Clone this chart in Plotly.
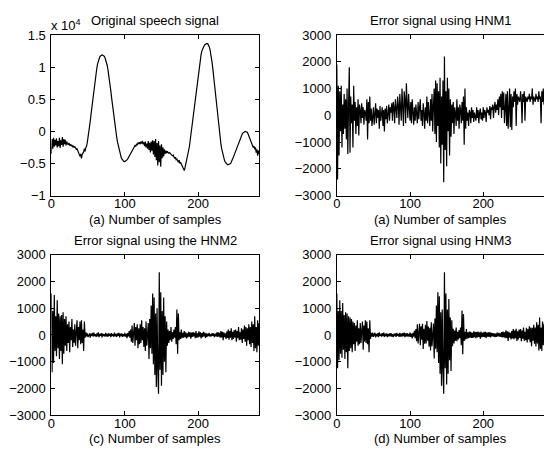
import plotly.graph_objects as go

# ---------------- data ----------------
speech = [
    -3500, -1200, -2700, -1000, -2400, -1300, -2200, -1100, -2500, -1500,
    -2300, -1000, -2600, -1400, -2100, -900, -2400, -1200, -2000, -1300,
    -2200, -1600, -1900, -2100, -1800, -2200, -2000, -2300, -2100, -2400,
    -2300, -2500, -2400, -2600, -2800, -2700, -3000, -3300, -3600, -3900,
    -3500, -4200, -3600, -3400, -3200, -2700, -3100, -2500, -2300, -1700,
    -1000, -200, 700, 1600, 2600, 3600, 4600, 5600, 6600, 7500,
    8400, 9200, 9900, 10500, 11000, 11300, 11600, 11750, 11850, 11900,
    11850, 11800, 11700, 11500, 11200, 10800, 10300, 9700, 9000, 8200,
    7300, 6300, 5300, 4300, 3300, 2300, 1400, 600, -200, -900,
    -1600, -2200, -2800, -3300, -3700, -4000, -4300, -4500, -4600, -4700,
    -4700, -4650, -4600, -4450, -4300, -4100, -3800, -3600, -3300, -3100,
    -2900, -2700, -2500, -2400, -2200, -2300, -2000, -2100, -1800, -1900,
    -1700, -2000, -1600, -1900, -1500, -2000, -1700, -2300, -1600, -2500,
    -1900, -2700, -1500, -2900, -1800, -3300, -1600, -3000, -1400, -3600,
    -1500, -4000, -1200, -4500, -1800, -5300, -1500, -4800, -2200, -5500,
    -2000, -4200, -2500, -3900, -2800, -3500, -3000, -3400, -3100, -3300,
    -3400, -3300, -3500, -3600, -3700, -3800, -3700, -4000, -4200, -4000,
    -4400, -4300, -4600, -4800, -4500, -5000, -4800, -5200, -5400, -5600,
    -5800, -6100, -5700, -5200, -4700, -4300, -3900, -3200, -2400, -1500,
    -600, 400, 1400, 2400, 3400, 4400, 5400, 6400, 7400, 8300,
    9200, 10000, 10700, 11400, 12000, 12500, 12900, 13200, 13300, 13500,
    13600, 13700, 13700, 13650, 13500, 13200, 12800, 12200, 11500, 10700,
    9700, 8600, 7500, 6300, 5100, 3900, 2800, 1700, 700, -300,
    -1200, -2000, -2700, -3300, -3800, -4200, -4600, -4800, -5000, -5100,
    -5200, -5200, -5150, -5100, -5000, -4800, -4600, -4300, -4000, -3700,
    -3400, -3000, -2700, -2300, -2000, -1700, -1400, -1100, -800, -600,
    -400, -250, -150, -50, 0, -50, -100, -150, -400, -700,
    -1000, -1300, -1600, -1900, -2200, -2500, -2300, -2800, -2500, -3300,
    -2800, -3800, -3000, -3500,
]

err_hnm1 = [
    1900, -2400, 1100, -1500, 900, -600, 1100, -1200, 400, -700,
    800, -500, 600, -900, 1000, -1450, 300, 1800, -1400, 700,
    -300, 400, -1200, 1100, -200, 500, -700, 300, -400, 600,
    -750, 400, 200, -300, 450, -100, 300, -350, 200, 100,
    -200, 600, -900, 500, -300, 700, -200, 250, -400, 150,
    300, -350, 100, 450, -300, 250, -100, 200, -500, 350,
    -200, 150, 300, -400, 200, -600, 250, -150, 350, -300,
    200, 400, -200, 300, 100, 450, -200, 500, 300, -300,
    600, 200, -100, 700, 400, -350, 800, 300, -200, 1000,
    200, -400, 900, 600, -300, 1200, 400, -100, 800, 200,
    -200, 500, -300, 600, 100, -350, 300, -200, 400, 100,
    -300, 500, -150, 300, 600, -200, 200, -400, 450, 100,
    -500, 300, -200, 700, -300, 500, 200, -400, 600, -200,
    800, -600, 400, 1000, -700, 1300, -1000, 1200, -400, 900,
    -1200, 1400, -1800, 700, -1100, 1300, -2500, 2200, -1300, 900,
    -1900, 1400, -600, 1000, -1500, 600, -800, 400, -300, 500,
    -700, 300, 100, -400, 600, -200, 300, -500, 400, 200,
    -300, 500, -200, 700, -1100, 1000, -500, 300, -200, 100,
    -400, 200, 100, -300, 300, -100, 200, -250, 100, 0,
    -200, 300, -100, 200, -300, 100, 250, -150, 100, -200,
    300, -100, 200, 100, -250, 300, 100, 200, 0, 350,
    -150, 300, 200, 400, -100, 300, 500, 100, 400, 200,
    600, 0, 700, 300, 800, -100, 900, 200, 850, -300,
    700, 800, -400, 900, -500, 600, 1000, -450, 800, -550,
    700, 300, 900, 500, 1000, -400, 800, 400, 700, 600,
    500, 900, 600, -300, 800, 500, 900, -200, 700, 600,
    500, 700, 600, 800, 500, 700, 600, 1000, 400, 700,
    600, 500, 800, 600, 700, 500, 900, 600, 700, -300,
    900, 500, 1000, 400,
]

err_hnm2 = [
    1550, -1400, 900, -1050, 1500, -600, 700, -800, 1300, -500,
    800, -900, 700, -600, 750, -1100, 850, -700, 600, -400,
    700, -600, 400, -300, 500, -650, 300, -200, 600, -450,
    200, -300, 400, -400, 100, 550, -500, 300, -200, 500,
    -350, 550, -300, 200, -600, 500, -100, 100, -50, 60,
    -80, 40, 60, -100, 50, -30, 80, -60, 90, -40,
    30, -70, 60, -50, 100, -80, 40, -30, 70, -90,
    50, -40, 30, -60, 80, -50, 40, -70, 60, -30,
    50, -80, 70, -40, 30, -60, 90, -50, 40, -70,
    60, -30, 80, -90, 50, -40, 60, -70, 30, -50,
    80, -60, 40, -120, 70, -50, 150, -100, 200, -250,
    350, -300, 100, 450, -400, 300, -200, 400, -500, 250,
    -350, 400, -300, 550, -200, 300, -450, 250, -600, 500,
    -400, 300, 450, -900, 600, -500, 1100, -700, 1550, -1100,
    1400, -1500, 800, -1950, 1000, -1400, -2200, 2350, -1300, 1600,
    -1900, 900, -1500, 1400, -1000, 700, -1400, 500, -400, 200,
    -300, 150, -200, 300, -250, 100, -150, 200, -100, 300,
    -350, 950, -700, 800, -200, 100, -150, 200, -120, 80,
    -100, 150, -80, 100, -130, 60, -90, 120, -60, 100,
    -140, 90, -70, 110, -50, 80, -120, 150, -100, 60,
    -90, 140, -60, 100, -130, 70, -80, 120, -50, 90,
    -110, 60, -70, 50, -40, 80, -60, 30, -50, 70,
    -30, 60, -80, 40, -50, 90, -70, 110, -60, 80,
    -100, 150, -90, 120, -200, 100, -80, 60, -150, 130,
    -110, 200, -180, 150, -100, 250, -200, 120, -150, 180,
    -90, 200, -250, 150, -120, 300, -200, 100, -180, 250,
    -300, 200, -150, 350, -250, 300, -400, 250, -200, 400,
    -350, 300, -450, 500, -300, 400, -600, 700, -500, 300,
    -650, 550, -400, 450,
]

err_hnm3 = [
    1550, -1250, 900, -950, 1300, -700, 900, -850, 1200, -550,
    750, -900, 850, -650, 800, -1250, 700, -600, 650, -500,
    600, -650, 500, -350, 450, -600, 350, -250, 550, -400,
    250, -350, 450, -300, 150, 500, -550, 350, -250, 550,
    -300, 500, -350, 250, -650, 550, -150, 80, -60, 90,
    -70, 50, 80, -90, 40, -50, 70, -80, 100, -30,
    40, -60, 70, -40, 90, -70, 50, -40, 60, -80,
    40, -50, 60, -50, 70, -60, 30, -80, 50, -40,
    60, -70, 80, -30, 40, -70, 80, -60, 50, -60,
    70, -40, 90, -80, 60, -50, 70, -60, 40, -60,
    90, -70, 50, -130, 80, -60, 160, -120, 220, -230,
    400, -320, 120, 420, -380, 330, -180, 420, -520, 230,
    -330, 380, -320, 520, -220, 320, -430, 270, -580, 480,
    -420, 320, 430, -880, 620, -520, 1100, -650, 1600, -1050,
    1450, -1450, 850, -1900, 950, -1350, -2200, 2350, -1250, 1550,
    -1850, 950, -1450, 1350, -950, 650, -1350, 550, -420, 230,
    -320, 170, -220, 280, -230, 120, -170, 180, -120, 280,
    -380, 920, -720, 780, -220, 120, -170, 220, -140, 100,
    -120, 130, -100, 120, -110, 80, -110, 140, -80, 120,
    -120, 110, -90, 130, -70, 100, -140, 130, -80, 80,
    -70, 120, -80, 120, -110, 90, -60, 100, -70, 110,
    -90, 80, -50, 70, -60, 60, -80, 50, -70, 90,
    -50, 80, -60, 60, -70, 110, -90, 130, -80, 100,
    -120, 170, -110, 140, -220, 120, -100, 80, -170, 150,
    -130, 220, -160, 170, -120, 230, -220, 140, -170, 200,
    -110, 220, -230, 170, -140, 280, -220, 120, -200, 270,
    -280, 220, -170, 330, -270, 280, -420, 270, -220, 380,
    -330, 280, -430, 480, -320, 380, -580, 650, -520, 280,
    -600, 500, -380, 420,
]

speech_ticks = [-10000, -5000, 0, 5000, 10000, 15000]
speech_ticktext = ["\u22121", "\u22120.5", "0", "0.5", "1", "1.5"]
err_ticks = [-3000, -2000, -1000, 0, 1000, 2000, 3000]
err_ticktext = ["\u22123000", "\u22122000", "\u22121000", "0", "1000", "2000", "3000"]
x_ticks = [0, 100, 200]

titles = ["Original speech signal", "Error signal using HNM1",
          "Error signal using the HNM2", "Error signal using HNM3"]
xlabels = ["(a) Number of samples", "(a) Number of samples",
           "(c) Number of samples", "(d) Number of samples"]

# ---------------- layout geometry (pixels of a 544x455 page) ----------------
W, H = 544, 455
def px(x):
    return x / W
def py(y):
    return 1 - y / H

panels = [
    # (left, right, top, bottom) in page pixels
    (47.7, 257.0, 29.0, 195.0),
    (335.3, 544.0, 29.0, 195.0),
    (47.7, 257.0, 256.3, 422.0),
    (335.3, 544.0, 256.3, 422.0),
]
series = [speech, err_hnm1, err_hnm2, err_hnm3]
yranges = [[-10000, 15000], [-3000, 3000], [-3000, 3000], [-3000, 3000]]
yticks = [(speech_ticks, speech_ticktext)] + [(err_ticks, err_ticktext)] * 3

FONT = "Liberation Sans, Arial, Helvetica, sans-serif"
FS = 13

fig = go.Figure()
layout = dict(
    width=W, height=H,
    margin=dict(l=0, r=0, t=0, b=0),
    paper_bgcolor="white", plot_bgcolor="white",
    showlegend=False,
    font=dict(family=FONT, size=FS, color="black"),
    annotations=[],
)

for i, (vals, (l, r, t, b)) in enumerate(zip(series, panels)):
    n = i + 1
    xs = "x" if n == 1 else f"x{n}"
    ys = "y" if n == 1 else f"y{n}"
    fig.add_trace(go.Scatter(
        x=list(range(len(vals))), y=vals, mode="lines",
        line=dict(color="black", width=1.2), xaxis=xs, yaxis=ys,
        hoverinfo="skip",
    ))
    right_col = (i % 2 == 1)
    xkey = "xaxis" if n == 1 else f"xaxis{n}"
    ykey = "yaxis" if n == 1 else f"yaxis{n}"
    layout[xkey] = dict(
        domain=[px(l), px(r)], anchor=ys, range=[0, 283],
        tickvals=x_ticks, ticks="inside", ticklen=4, tickcolor="black",
        showline=True, linecolor="black", linewidth=1, mirror="ticks",
        showgrid=False, zeroline=False, tickfont=dict(size=FS, family=FONT),
        ticklabelstandoff=-4,
    )
    tv, tt = yticks[i]
    layout[ykey] = dict(
        domain=[py(b), py(t)], anchor=xs, range=yranges[i],
        tickvals=tv, ticktext=tt, ticks="inside", ticklen=4, tickcolor="black",
        showline=True, linecolor="black", linewidth=1,
        mirror=False if right_col else "ticks",
        showgrid=False, zeroline=False, tickfont=dict(size=FS, family=FONT),
        ticklabelstandoff=2,
    )
    cx = (l + r) / 2 if not right_col else (l + 544.6) / 2
    layout["annotations"].append(dict(
        text=titles[i], x=px(cx), y=py(t - 15), xref="paper", yref="paper",
        xanchor="center", yanchor="middle", showarrow=False,
        font=dict(size=FS, family=FONT)))
    layout["annotations"].append(dict(
        text=xlabels[i], x=px(cx), y=py(b + 24.5), xref="paper", yref="paper",
        xanchor="center", yanchor="middle", showarrow=False,
        font=dict(size=FS, family=FONT)))

layout["annotations"].append(dict(
    text="x 10<sup>4</sup>", x=px(45), y=py(19), xref="paper", yref="paper",
    xanchor="left", yanchor="middle", showarrow=False,
    font=dict(size=FS, family=FONT)))

fig.update_layout(**layout)
fig.write_html("out.html")
